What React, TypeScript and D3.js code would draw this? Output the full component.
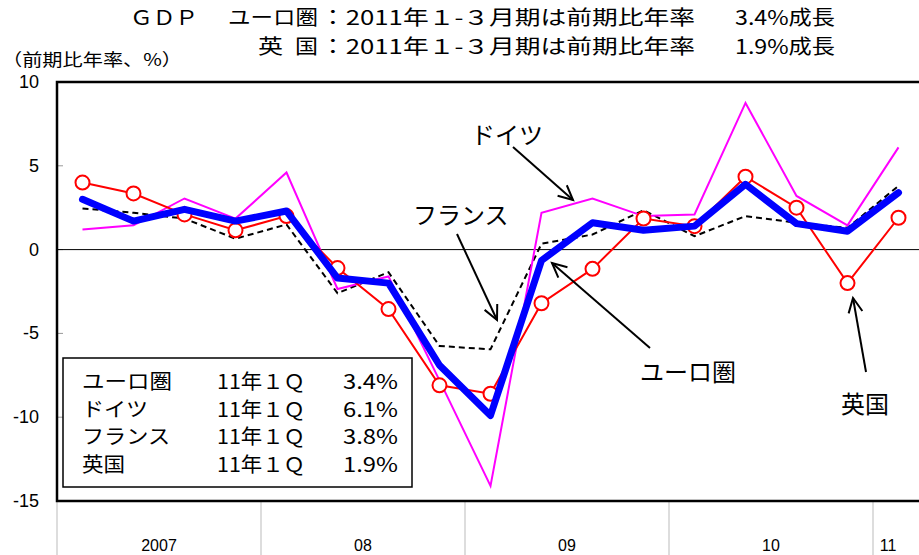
import React from "react";
import * as d3 from "d3";

const quarters = [
  "07Q1","07Q2","07Q3","07Q4",
  "08Q1","08Q2","08Q3","08Q4",
  "09Q1","09Q2","09Q3","09Q4",
  "10Q1","10Q2","10Q3","10Q4",
  "11Q1",
];
const euro = [3.0, 1.7, 2.4, 1.7, 2.3, -1.7, -2.0, -6.9, -9.9, -0.65, 1.6, 1.15, 1.4, 3.9, 1.55, 1.1, 3.4];
const germany = [1.2, 1.45, 3.05, 1.85, 4.6, -2.35, -1.6, -7.8, -14.1, 2.2, 3.05, 2.0, 2.1, 8.75, 3.2, 1.45, 6.1];
const france = [2.45, 2.2, 1.85, 0.65, 1.5, -2.6, -1.35, -5.75, -5.95, 0.35, 0.9, 2.35, 0.8, 2.0, 1.6, 1.3, 3.8];
const uk = [4.0, 3.35, 2.1, 1.15, 2.0, -1.1, -3.55, -8.1, -8.6, -3.2, -1.15, 1.85, 1.4, 4.35, 2.5, -2.0, 1.9];

const years = ["2007", "08", "09", "10", "11"];
const yTicks = [10, 5, 0, -5, -10, -15];

const legendNames = ["ユーロ圏", "ドイツ", "フランス", "英国"];
const legendPeriod = ["11年１Ｑ", "11年１Ｑ", "11年１Ｑ", "11年１Ｑ"];
const legendValues = ["3.4%", "6.1%", "3.8%", "1.9%"];

const W = 919;
const H = 555;
const JP = "'Noto Sans CJK JP', 'Noto Sans', sans-serif";
const NUM = "'Liberation Sans', Arial, sans-serif";

export default function App() {
  const x = d3.scaleLinear().domain([0, quarters.length]).range([57, 924]);
  const y = d3.scaleLinear().domain([-15, 10]).range([501, 82]);
  const px = (i: number) => x(i + 0.5);

  const line = d3
    .line<number>()
    .x((_, i) => px(i))
    .y((d) => y(d));

  const arrow = (x1: number, y1: number, x2: number, y2: number, key: string) => {
    const ang = Math.atan2(y2 - y1, x2 - x1);
    const len = 16;
    const spread = 0.45;
    const a1 = ang + Math.PI - spread;
    const a2 = ang + Math.PI + spread;
    return (
      <g key={key} stroke="#000" strokeWidth={2} fill="none">
        <line x1={x1} y1={y1} x2={x2} y2={y2} />
        <polyline
          points={`${x2 + len * Math.cos(a1)},${y2 + len * Math.sin(a1)} ${x2},${y2} ${x2 + len * Math.cos(a2)},${y2 + len * Math.sin(a2)}`}
        />
      </g>
    );
  };

  const yearBounds = [0, 4, 8, 12, 16, 17];
  const nameLen = [90, 66, 88, 43];

  return (
    <svg
      width={W}
      height={H}
      style={{ position: "absolute", left: 0, top: 0, background: "#fff" }}
    >
      <rect x={0} y={0} width={W} height={H} fill="#fff" />
      {/* Title */}
      <g fontFamily={JP} fontSize={20} fill="#000">
        <text x={130} y={25} textLength={68} lengthAdjust="spacingAndGlyphs">ＧＤＰ</text>
        <text x={228} y={25} textLength={90} lengthAdjust="spacingAndGlyphs">ユーロ圏</text>
        <text x={320} y={25} textLength={375} lengthAdjust="spacingAndGlyphs">：2011年１-３月期は前期比年率</text>
        <text x={735} y={25} textLength={100} lengthAdjust="spacingAndGlyphs">3.4%成長</text>
        <text x={258} y={54} textLength={25} lengthAdjust="spacingAndGlyphs">英</text>
        <text x={295} y={54} textLength={23} lengthAdjust="spacingAndGlyphs">国</text>
        <text x={320} y={54} textLength={375} lengthAdjust="spacingAndGlyphs">：2011年１-３月期は前期比年率</text>
        <text x={735} y={54} textLength={100} lengthAdjust="spacingAndGlyphs">1.9%成長</text>
      </g>
      <text x={2} y={66} fontFamily={JP} fontSize={17} textLength={180} lengthAdjust="spacingAndGlyphs">（前期比年率、%）</text>

      {/* Y tick labels */}
      <g fontFamily={NUM} fontSize={18} fill="#000" textAnchor="end">
        {yTicks.map((t) => (
          <text key={t} x={39} y={y(t) + 6}>{t < 0 ? `-${Math.abs(t)}` : t}</text>
        ))}
      </g>
      {/* y ticks inside */}
      <g stroke="#999" strokeWidth={1}>
        {yTicks.map((t) => (
          <line key={t} x1={57} x2={63} y1={y(t)} y2={y(t)} />
        ))}
      </g>

      {/* x separators */}
      <g stroke="#bbb" strokeWidth={1}>
        {yearBounds.slice(0, 5).map((b, i) => (
          <line key={i} x1={x(b)} x2={x(b)} y1={501} y2={H} />
        ))}
      </g>
      <g fontFamily={NUM} fontSize={16} fill="#000" textAnchor="middle">
        {years.map((yr, i) => {
          const cx = i < 4 ? (x(yearBounds[i]) + x(yearBounds[i + 1])) / 2 : 888;
          return (
            <text key={yr} x={cx} y={551}>{yr}</text>
          );
        })}
      </g>

      {/* zero line */}
      <line x1={57} x2={W} y1={y(0)} y2={y(0)} stroke="#000" strokeWidth={1} />

      {/* series */}
      <path d={line(france) || ""} fill="none" stroke="#000" strokeWidth={2} strokeDasharray="6,4" />
      <path d={line(germany) || ""} fill="none" stroke="#ff00ff" strokeWidth={2} />
      <path d={line(uk) || ""} fill="none" stroke="#ff0000" strokeWidth={2} />
      {uk.map((v, i) => (
        <circle key={i} cx={px(i)} cy={y(v)} r={7} fill="#fff" stroke="#ff0000" strokeWidth={2} />
      ))}
      <path d={line(euro) || ""} fill="none" stroke="#0000ff" strokeWidth={7} strokeLinejoin="round" strokeLinecap="round" />

      {/* frame */}
      <rect x={57} y={82} width={W} height={419} fill="none" stroke="#000" strokeWidth={2.5} />

      {/* annotations */}
      <g fontFamily={JP} fontSize={24} fill="#000">
        <text x={471} y={144}>ドイツ</text>
        <text x={413} y={224}>フランス</text>
        <text x={640} y={381}>ユーロ圏</text>
        <text x={841} y={413}>英国</text>
      </g>
      {arrow(513, 147, 573, 200, "a1")}
      {arrow(457, 234, 497, 320, "a2")}
      {arrow(650, 348, 552, 263, "a3")}
      {arrow(866, 372, 853, 298, "a4")}

      {/* legend box */}
      <rect x={63} y={358} width={349} height={129} fill="#fff" stroke="#000" strokeWidth={1.5} />
      <g fontFamily={JP} fontSize={20} fill="#000">
        {legendNames.map((n, i) => (
          <g key={n}>
            <text x={82} y={389 + i * 27.5} textLength={nameLen[i]} lengthAdjust="spacingAndGlyphs">{n}</text>
            <text x={217} y={389 + i * 27.5} textLength={88} lengthAdjust="spacingAndGlyphs">{legendPeriod[i]}</text>
            <text x={343} y={389 + i * 27.5} textLength={55} lengthAdjust="spacingAndGlyphs">{legendValues[i]}</text>
          </g>
        ))}
      </g>
    </svg>
  );
}
